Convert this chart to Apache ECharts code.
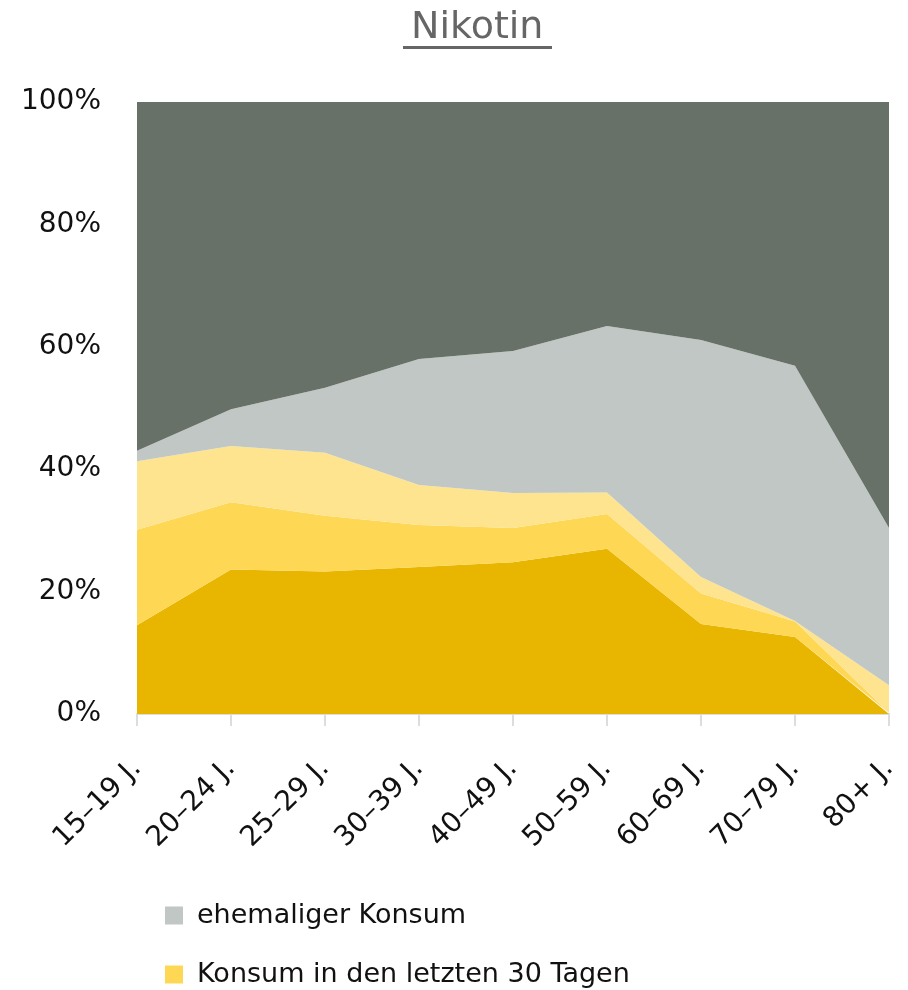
<!DOCTYPE html>
<html>
<head>
<meta charset="utf-8">
<title>Nikotin</title>
<script src="https://cdn.jsdelivr.net/npm/echarts@6/dist/echarts.min.js"></script>
<style>
  html, body { margin: 0; padding: 0; background: #fff; }
  #chart { width: 908px; height: 990px; }
</style>
</head>
<body>
<div id="chart"></div>
<script>
// age groups on the x axis
var ageGroups = ['15–19 J.', '20–24 J.', '25–29 J.', '30–39 J.', '40–49 J.', '50–59 J.', '60–69 J.', '70–79 J.', '80+ J.'];

// shares in percent, bottom layer first
var dailyUse   = [14.5, 23.6, 23.3, 24.0, 24.8, 27.0, 14.7, 12.6, 0.0];
var recentUse  = [15.6, 11.0, 9.1, 6.9, 5.6, 5.7, 5.0, 2.5, 0.2];
var rareUse    = [11.2, 9.2, 10.3, 6.5, 5.7, 3.5, 2.7, 0.1, 4.5];
var formerUse  = [1.7, 6.0, 10.6, 20.6, 23.2, 27.2, 38.7, 41.7, 25.7];
var neverUse   = [57.0, 50.2, 46.7, 42.0, 40.7, 36.6, 38.9, 43.1, 69.6];

var yTicks = [0, 20, 40, 60, 80, 100];

var chart = echarts.init(document.getElementById('chart'));

function layer(name, data, color) {
  return {
    name: name,
    type: 'line',
    stack: 'total',
    data: data,
    symbol: 'none',
    lineStyle: { width: 0 },
    areaStyle: { color: color, opacity: 1 },
    itemStyle: { color: color },
    emphasis: { disabled: true },
    silent: true
  };
}

var labelFont = '"DejaVu Sans", sans-serif';

chart.setOption({
  animation: false,
  backgroundColor: '#fff',
  title: {
    text: 'Nikotin',
    left: 406,
    top: 4,
    textStyle: {
      fontFamily: labelFont,
      fontSize: 38,
      fontWeight: 'normal',
      color: '#666'
    }
  },
  graphic: [{
    type: 'rect',
    left: 403,
    top: 46,
    shape: { width: 149, height: 3 },
    style: { fill: '#666' }
  }],
  legend: {
    data: ['ehemaliger Konsum', 'Konsum in den letzten 30 Tagen'],
    orient: 'vertical',
    left: 165,
    top: 902,
    padding: 0,
    itemGap: 32,
    itemWidth: 18,
    itemHeight: 18,
    icon: 'rect',
    textStyle: { fontFamily: labelFont, fontSize: 27, color: '#111', padding: [0, 0, 0, 9] }
  },
  grid: { left: 137, right: 19, top: 102, bottom: 276 },
  xAxis: {
    type: 'category',
    data: ageGroups,
    boundaryGap: false,
    axisLine: { lineStyle: { color: '#ddd', width: 2 } },
    axisTick: { length: 12, lineStyle: { color: '#ddd', width: 2 } },
    axisLabel: {
      rotate: 45,
      margin: 50,
      fontFamily: labelFont,
      fontSize: 28,
      color: '#111'
    }
  },
  yAxis: {
    type: 'value',
    min: yTicks[0],
    max: yTicks[yTicks.length - 1],
    interval: 20,
    axisLine: { show: false },
    axisTick: { show: false },
    splitLine: { show: false },
    axisLabel: {
      margin: 36,
      formatter: '{value}%',
      fontFamily: labelFont,
      fontSize: 28,
      color: '#111'
    }
  },
  series: [
    layer('täglicher Konsum', dailyUse, '#e8b500'),
    layer('Konsum in den letzten 30 Tagen', recentUse, '#fed755'),
    layer('gelegentlicher Konsum', rareUse, '#fee48e'),
    layer('ehemaliger Konsum', formerUse, '#c1c7c4'),
    layer('nie konsumiert', neverUse, '#677168')
  ]
});
</script>
</body>
</html>
